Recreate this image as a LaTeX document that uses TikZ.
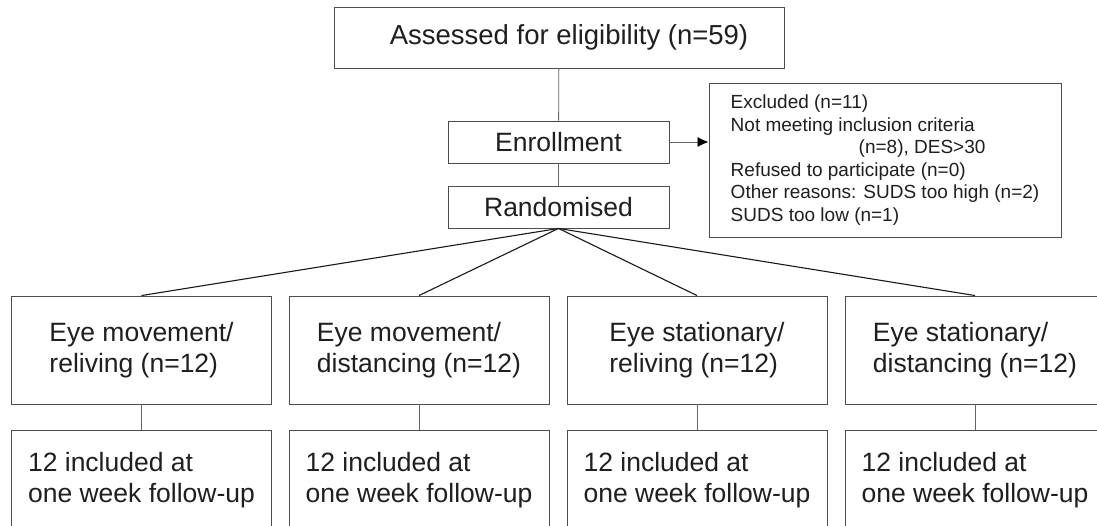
\documentclass[tikz,border=0pt]{standalone}
\usepackage{fontspec}
\setmainfont{Liberation Sans}
\usetikzlibrary{arrows.meta}
\begin{document}
\begin{tikzpicture}[x=1pt,y=-1pt,
  box/.style={draw=black!70, line width=0.9pt, inner sep=0pt, text=black!88, align=left},
  mainfont/.style={font=\fontsize{26.5}{31}\selectfont},
  link/.style={draw=black!60, line width=0.8pt},
  fan/.style={draw=black!90, line width=1.1pt}]
\fill[white] (0,0) rectangle (1097,526);
\useasboundingbox (0,0) rectangle (1097,526);

\node[box, font=\fontsize{27.5}{32}\selectfont, minimum width=450pt, minimum height=61pt] (assess) at (559,37.5) {\hspace*{20pt}Assessed for eligibility (n=59)};
\node[box, mainfont, minimum width=221pt, minimum height=42pt] (enrol) at (558.5,142) {Enrollment};
\node[box, mainfont, minimum width=221pt, minimum height=42pt] (rand) at (558.5,207) {Randomised};
\node[box, font=\fontsize{19}{22.6}\selectfont, minimum width=352pt, minimum height=154pt] (excl) at (885,160) {Excluded (n=11)\\
Not meeting inclusion criteria\\
\hspace*{128pt}(n=8), DES>30\\
Refused to participate (n=0)\\
Other reasons: SUDS too high (n=2)\\
SUDS too low (n=1)};

\node[box, mainfont, minimum width=260pt, minimum height=108pt] (e1) at (141.5,350) {Eye movement/\\reliving (n=12)};
\node[box, mainfont, minimum width=260pt, minimum height=108pt] (e2) at (419,350) {Eye movement/\\distancing (n=12)};
\node[box, mainfont, minimum width=260pt, minimum height=108pt] (e3) at (697,350) {Eye stationary/\\reliving (n=12)};
\node[box, mainfont, minimum width=260pt, minimum height=108pt] (e4) at (975,350) {Eye stationary/\\distancing (n=12)};

\node[box, mainfont, minimum width=260pt, minimum height=101pt] (f1) at (141.5,480.5) {12 included at\\one week follow-up};
\node[box, mainfont, minimum width=260pt, minimum height=101pt] (f2) at (419,480.5) {12 included at\\one week follow-up};
\node[box, mainfont, minimum width=260pt, minimum height=101pt] (f3) at (697,480.5) {12 included at\\one week follow-up};
\node[box, mainfont, minimum width=260pt, minimum height=101pt] (f4) at (975,480.5) {12 included at\\one week follow-up};

\draw[link] (assess) -- (enrol);
\draw[link] (enrol) -- (rand);
\draw[link, -{Latex[length=11pt,width=10pt,black]}] (enrol.east) -- (excl.west |- enrol.east);

\foreach \i in {1,2,3,4}{
  \draw[fan] (rand.south) -- (e\i.north);
  \draw[link] (e\i.south) -- (f\i.north);
}
\end{tikzpicture}
\end{document}
